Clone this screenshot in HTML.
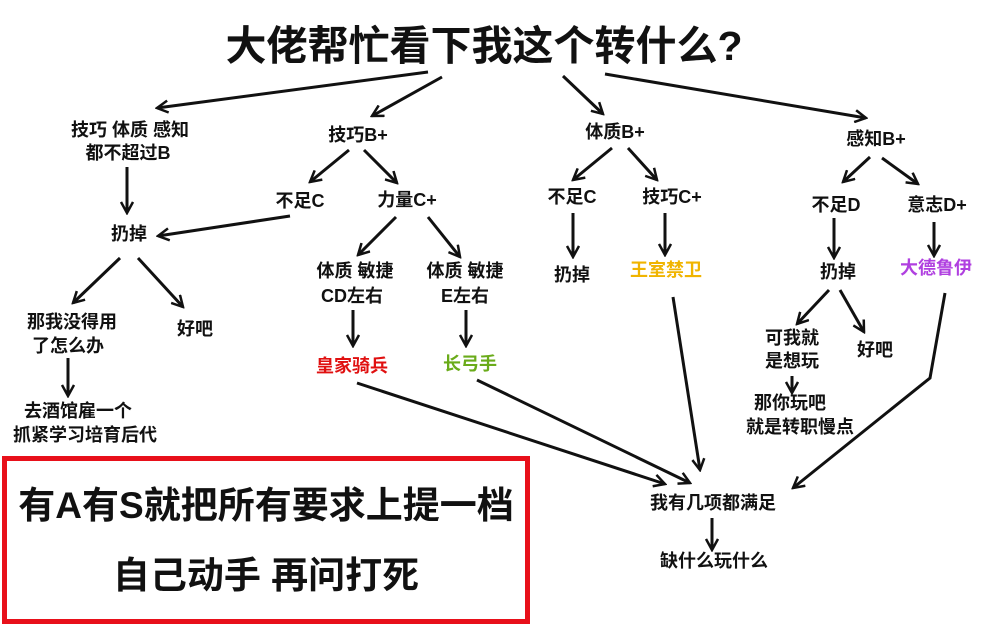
<!DOCTYPE html>
<html><head><meta charset="utf-8"><style>
html,body{margin:0;padding:0;background:#fff;width:999px;height:628px;overflow:hidden}
svg text{font-family:"Liberation Sans","Noto Sans CJK SC",sans-serif;font-weight:bold;text-anchor:middle;fill:#111}
</style></head><body>
<svg width="999" height="628" viewBox="0 0 999 628" xmlns="http://www.w3.org/2000/svg">
<defs><marker id="a" markerWidth="14" markerHeight="14" refX="12" refY="7" orient="auto" markerUnits="userSpaceOnUse"><path d="M1,1 L12,7 L1,13" fill="none" stroke="#111" stroke-width="2.5"/></marker></defs>
<g stroke="#111" stroke-width="3" fill="none" marker-end="url(#a)">
<line x1="428" y1="72" x2="157" y2="108"/>
<line x1="442" y1="77" x2="372" y2="116"/>
<line x1="563" y1="76" x2="603" y2="114"/>
<line x1="605" y1="74" x2="866" y2="118"/>
<line x1="127" y1="167" x2="127" y2="213"/>
<line x1="349" y1="150" x2="310" y2="182"/>
<line x1="364" y1="150" x2="397" y2="183"/>
<line x1="290" y1="216" x2="158" y2="236"/>
<line x1="120" y1="258" x2="73" y2="303"/>
<line x1="138" y1="258" x2="183" y2="307"/>
<line x1="68" y1="358" x2="68" y2="396"/>
<line x1="396" y1="217" x2="358" y2="255"/>
<line x1="428" y1="217" x2="460" y2="257"/>
<line x1="353" y1="310" x2="353" y2="346"/>
<line x1="466" y1="310" x2="466" y2="346"/>
<line x1="612" y1="148" x2="573" y2="180"/>
<line x1="628" y1="148" x2="657" y2="180"/>
<line x1="573" y1="213" x2="573" y2="257"/>
<line x1="665" y1="213" x2="665" y2="255"/>
<line x1="870" y1="157" x2="843" y2="182"/>
<line x1="882" y1="158" x2="918" y2="184"/>
<line x1="834" y1="218" x2="834" y2="258"/>
<line x1="934" y1="222" x2="934" y2="256"/>
<line x1="829" y1="290" x2="797" y2="324"/>
<line x1="840" y1="290" x2="864" y2="332"/>
<line x1="792" y1="376" x2="792" y2="393"/>
<line x1="357" y1="383" x2="665" y2="484"/>
<line x1="477" y1="380" x2="690" y2="483"/>
<line x1="673" y1="297" x2="700" y2="470"/>
<polyline points="945,293 930,378 793,488"/>
<line x1="712" y1="518" x2="712" y2="550"/>
</g>
<text x="484" y="60" font-size="41">大佬帮忙看下我这个转什么?</text>
<g font-size="18">
<text x="130" y="136">技巧 体质 感知</text>
<text x="128" y="159">都不超过B</text>
<text x="358" y="141">技巧B+</text>
<text x="615" y="138">体质B+</text>
<text x="876" y="145">感知B+</text>
<text x="129" y="240">扔掉</text>
<text x="300" y="207">不足C</text>
<text x="407" y="206">力量C+</text>
<text x="72" y="328">那我没得用</text>
<text x="68" y="352">了怎么办</text>
<text x="195" y="335">好吧</text>
<text x="78" y="417">去酒馆雇一个</text>
<text x="85" y="441">抓紧学习培育后代</text>
<text x="355" y="277">体质 敏捷</text>
<text x="352" y="302">CD左右</text>
<text x="465" y="277">体质 敏捷</text>
<text x="465" y="302">E左右</text>
<text x="352" y="372" style="fill:#e01010">皇家骑兵</text>
<text x="470" y="370" style="fill:#6aab1a">长弓手</text>
<text x="572" y="203">不足C</text>
<text x="672" y="203">技巧C+</text>
<text x="572" y="281">扔掉</text>
<text x="666" y="276" style="fill:#f0b400">王室禁卫</text>
<text x="836" y="211">不足D</text>
<text x="937" y="211">意志D+</text>
<text x="838" y="278">扔掉</text>
<text x="936" y="274" style="fill:#b040e0">大德鲁伊</text>
<text x="792" y="344">可我就</text>
<text x="792" y="367">是想玩</text>
<text x="875" y="356">好吧</text>
<text x="790" y="409">那你玩吧</text>
<text x="800" y="433">就是转职慢点</text>
<text x="713" y="509">我有几项都满足</text>
<text x="714" y="567">缺什么玩什么</text>
</g>
<rect x="4.5" y="458.5" width="523" height="163" fill="none" stroke="#e8101a" stroke-width="5"/>
<text x="266" y="518" font-size="37">有A有S就把所有要求上提一档</text>
<text x="266" y="588" font-size="37">自己动手 再问打死</text>
</svg>
</body></html>
